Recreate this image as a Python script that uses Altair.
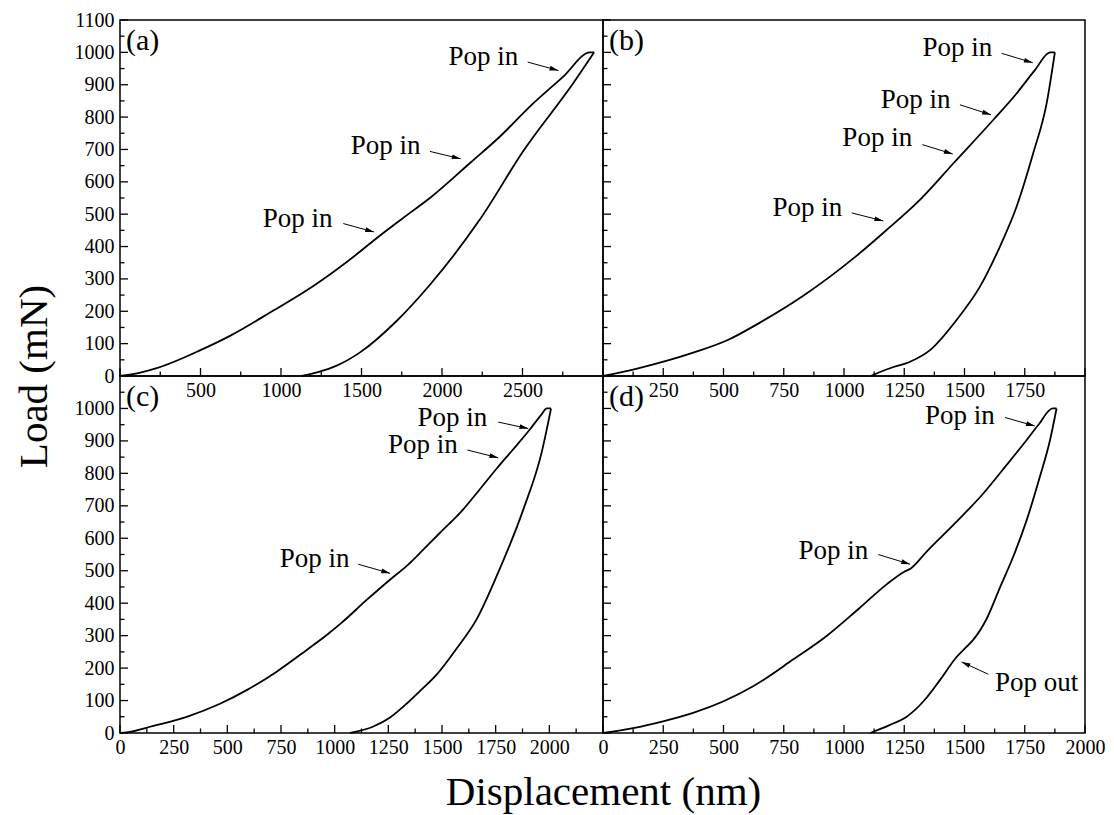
import math
import altair as alt
import pandas as pd

FONT = "Liberation Serif"

# ---------------- data ----------------
# Panel (a)
a_load_d = [0, 120, 238, 500, 683, 932, 1201, 1470, 1584, 1801, 1925, 2174, 2360, 2547, 2753, 2920, 2945]
a_load_l = [0, 10, 26, 80, 124, 196, 278, 376, 422, 504, 550, 658, 740, 833, 925, 1000, 1000]
a_unload_d = [2945, 2816, 2505, 2236, 1925, 1718, 1491, 1346, 1230, 1128]
a_unload_l = [1000, 905, 695, 484, 282, 170, 73, 32, 12, 0]

# Panel (b)
b_load_d = [0, 125, 374, 520, 651, 831, 942, 1053, 1184, 1301, 1460, 1619, 1716, 1792, 1855, 1875]
b_load_l = [0, 20, 72, 112, 165, 248, 307, 372, 456, 534, 662, 791, 873, 945, 1000, 1000]
b_unload_d = [1875, 1841, 1785, 1716, 1647, 1564, 1467, 1357, 1274, 1191, 1110]
b_unload_l = [1000, 843, 688, 523, 400, 276, 173, 80, 44, 24, 0]

# Panel (c)
c_load_d = [0, 31, 155, 311, 466, 590, 730, 870, 963, 1033, 1149, 1266, 1336, 1398, 1491, 1599, 1669, 1755, 1825, 1910, 1964, 1988, 2008]
c_load_l = [0, 2, 22, 50, 90, 132, 189, 256, 302, 340, 410, 477, 515, 555, 617, 689, 745, 815, 869, 936, 982, 1000, 1000]
c_unload_d = [2008, 1964, 1879, 1755, 1661, 1570, 1475, 1398, 1336, 1258, 1180, 1072]
c_unload_l = [1000, 864, 689, 484, 350, 262, 180, 130, 91, 48, 20, 0]

# Panel (d)
d_load_d = [0, 125, 249, 374, 498, 623, 790, 928, 1066, 1177, 1250, 1277, 1343, 1460, 1578, 1675, 1758, 1806, 1866, 1882]
d_load_l = [0, 15, 36, 62, 97, 144, 227, 299, 386, 458, 497, 507, 559, 646, 738, 826, 903, 949, 1000, 1000]
d_unload_d = [1882, 1855, 1813, 1758, 1702, 1647, 1592, 1536, 1509, 1468, 1398, 1329, 1260, 1191, 1108]
d_unload_l = [1000, 903, 790, 656, 543, 448, 352, 287, 266, 235, 163, 97, 50, 25, 0]

# Annotations: text, text x, text y, arrow start x, y, arrow tip x, y
a_notes = [("Pop in", 1104, 486, 1387, 471, 1578, 445),
           ("Pop in", 1650, 712, 1925, 694, 2116, 671),
           ("Pop in", 2257, 987, 2532, 970, 2723, 944)]
b_notes = [("Pop in", 848, 520, 1032, 504, 1163, 479),
           ("Pop in", 1138, 735, 1325, 715, 1451, 686),
           ("Pop in", 1297, 853, 1481, 838, 1610, 807),
           ("Pop in", 1470, 1013, 1654, 997, 1783, 968)]
c_notes = [("Pop in", 907, 535, 1110, 520, 1258, 492),
           ("Pop in", 1411, 886, 1618, 872, 1762, 848),
           ("Pop in", 1548, 972, 1762, 958, 1902, 938)]
d_notes = [("Pop in", 956, 561, 1142, 550, 1274, 520),
           ("Pop in", 1481, 977, 1668, 972, 1792, 946),
           ("Pop out", 1799, 155, 1599, 181, 1488, 219)]

# Tick values
y_major = list(range(0, 1101, 100))
y_minor = list(range(50, 1100, 100))
y_labels_top = list(range(0, 1101, 100))
y_labels_bottom = list(range(0, 1001, 100))

a_x_major = list(range(0, 3001, 500)); a_x_minor = list(range(250, 3000, 500))
a_x_labels = [500, 1000, 1500, 2000, 2500]
b_x_major = list(range(0, 2001, 250)); b_x_minor = list(range(125, 2000, 250))
b_x_labels = [250, 500, 750, 1000, 1250, 1500, 1750]
c_x_major = list(range(0, 2251, 250)); c_x_minor = list(range(125, 2250, 250))
c_x_labels = [0, 250, 500, 750, 1000, 1250, 1500, 1750, 2000]
d_x_major = list(range(0, 2001, 250)); d_x_minor = list(range(125, 2000, 250))
d_x_labels = [0, 250, 500, 750, 1000, 1250, 1500, 1750, 2000]

Y_DOM = [0, 1100]


def panel(label, dom, W, H, load_d, load_l, unl_d, unl_l, notes,
          x_major, x_minor, x_labels, y_labels=None, ytitle=False, xtitle=False):
    xs = alt.Scale(domain=dom, nice=False, zero=False)
    ys = alt.Scale(domain=Y_DOM, nice=False, zero=False)

    xaxis_kw = dict(values=x_labels, format="d", ticks=False, domain=False, grid=False,
                    labelFont=FONT, labelFontSize=20, labelColor="black",
                    labelPadding=4, labelFlush=False, labelOverlap=False,
                    labelBound=False, title=None)
    if xtitle:
        xaxis_kw.update(title="Displacement (nm)", titleFont=FONT, titleFontSize=41,
                        titleFontWeight="normal", titleColor="black",
                        titleX=483, titleY=71, titleAlign="center",
                        titleBaseline="alphabetic", titleAngle=0)
    xaxis = alt.Axis(**xaxis_kw)

    if y_labels is not None:
        yaxis_kw = dict(values=y_labels, format="d", ticks=False, domain=False, grid=False,
                        labelFont=FONT, labelFontSize=20, labelColor="black",
                        labelPadding=6, labelFlush=False, labelOverlap=False,
                        labelBound=False, title=None)
        if ytitle:
            yaxis_kw.update(title="Load (mN)", titleFont=FONT, titleFontSize=41,
                            titleFontWeight="normal", titleColor="black",
                            titleX=-74, titleY=H, titleAlign="center",
                            titleBaseline="alphabetic", titleAngle=270)
        yaxis = alt.Axis(**yaxis_kw)
    else:
        yaxis = None

    def X(f):
        return alt.X(f, scale=xs, axis=xaxis)

    def Y(f):
        return alt.Y(f, scale=ys, axis=yaxis)

    curve = pd.DataFrame({
        "D": load_d + unl_d,
        "L": load_l + unl_l,
        "seg": ["load"] * len(load_d) + ["unload"] * len(unl_d),
    })

    lines = alt.Chart(curve).mark_line(color="black", strokeWidth=1.8,
                                       interpolate="monotone").encode(
        x=X("D:Q"), y=Y("L:Q"), detail="seg:N",
    )

    nt = pd.DataFrame(notes, columns=["t", "tx", "ty", "x0", "y0", "x1", "y1"])
    angs = []
    for _, r in nt.iterrows():
        dx = (r.x1 - r.x0) / (dom[1] - dom[0]) * W
        dy = -(r.y1 - r.y0) / (Y_DOM[1] - Y_DOM[0]) * H
        angs.append(math.degrees(math.atan2(dy, dx)) % 360)
    nt["ang"] = angs

    texts = alt.Chart(nt).mark_text(font=FONT, fontSize=27, color="black",
                                    align="center", baseline="middle").encode(
        x=X("tx:Q"), y=Y("ty:Q"), text="t:N",
    )
    arrows = alt.Chart(nt).mark_rule(color="black", strokeWidth=1).encode(
        x=X("x0:Q"), y=Y("y0:Q"), x2="x1:Q", y2="y1:Q",
    )
    heads = alt.Chart(nt).mark_point(
        shape="M0,0L-2.2,-0.6L-2.2,0.6Z", filled=True, size=64,
        color="black", opacity=1, strokeWidth=0,
    ).encode(
        x=X("x1:Q"), y=Y("y1:Q"), angle=alt.Angle("ang:Q", scale=None),
    )

    xmaj = alt.Chart(pd.DataFrame({"v": x_major})).mark_rule(color="black", strokeWidth=1.3).encode(
        x=X("v:Q"), y=alt.value(H), y2=alt.value(H - 8))
    xmin = alt.Chart(pd.DataFrame({"v": x_minor})).mark_rule(color="black", strokeWidth=1.3).encode(
        x=X("v:Q"), y=alt.value(H), y2=alt.value(H - 4.5))
    ymaj = alt.Chart(pd.DataFrame({"v": y_major})).mark_rule(color="black", strokeWidth=1.3).encode(
        y=Y("v:Q"), x=alt.value(0), x2=alt.value(8))
    ymin = alt.Chart(pd.DataFrame({"v": y_minor})).mark_rule(color="black", strokeWidth=1.3).encode(
        y=Y("v:Q"), x=alt.value(0), x2=alt.value(4.5))

    lab = alt.Chart(pd.DataFrame({"t": [label]})).mark_text(
        font=FONT, fontSize=30, color="black", align="left", baseline="top").encode(
        x=alt.value(6), y=alt.value(6), text="t:N")

    return alt.layer(lines, xmaj, xmin, ymaj, ymin, arrows, heads, texts, lab).properties(
        width=W, height=H)


pa = panel("(a)", [0, 3000], 483, 356, a_load_d, a_load_l, a_unload_d, a_unload_l, a_notes,
           a_x_major, a_x_minor, a_x_labels, y_labels=y_labels_top, ytitle=True)
pb = panel("(b)", [0, 2000], 482, 356, b_load_d, b_load_l, b_unload_d, b_unload_l, b_notes,
           b_x_major, b_x_minor, b_x_labels)
pc = panel("(c)", [0, 2250], 483, 357, c_load_d, c_load_l, c_unload_d, c_unload_l, c_notes,
           c_x_major, c_x_minor, c_x_labels, y_labels=y_labels_bottom, xtitle=True)
pd_ = panel("(d)", [0, 2000], 482, 357, d_load_d, d_load_l, d_unload_d, d_unload_l, d_notes,
            d_x_major, d_x_minor, d_x_labels)

chart = alt.concat(pa, pb, pc, pd_, columns=2, spacing=0, bounds="flush").properties(
    background="white",
    autosize=alt.AutoSizeParams(type="none"),
    padding={"left": 120, "top": 20, "right": 994, "bottom": 795},
).configure_view(stroke="black", strokeWidth=1.5)

chart.save("out.html", embed_options={"renderer": "svg", "actions": False})
